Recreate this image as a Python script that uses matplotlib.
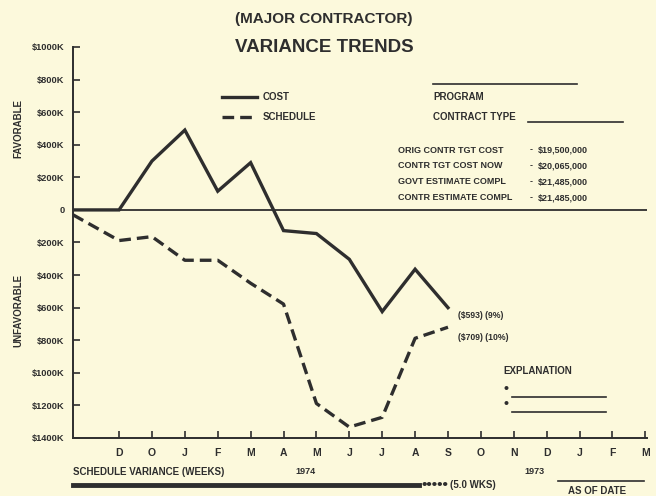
import matplotlib
matplotlib.use('Agg')
import matplotlib.pyplot as plt

# months along the bottom axis
months = ['D', 'O', 'J', 'F', 'M', 'A', 'M', 'J', 'J', 'A', 'S', 'O', 'N', 'D', 'J', 'F', 'M']

# variance values in $K (positive = favorable), first value is the origin point
cost = [0, 0, 300, 490, 115, 290, -127, -145, -303, -624, -364, -600]
schedule = [-30, -188, -164, -309, -309, -450, -578, -1188, -1333, -1273, -788, -720]

yticks = [1000, 800, 600, 400, 200, 0, -200, -400, -600, -800, -1000, -1200, -1400]
ytick_labels = ['$1000K', '$800K', '$600K', '$400K', '$200K', '0', '$200K', '$400K',
                '$600K', '$800K', '$1000K', '$1200K', '$1400K']

contract_rows = ['ORIG CONTR TGT COST', 'CONTR TGT COST NOW',
                 'GOVT ESTIMATE COMPL', 'CONTR ESTIMATE COMPL']
contract_vals = ['$19,500,000', '$20,065,000', '$21,485,000', '$21,485,000']

bg = '#fcf9dc'
ink = '#2e2e2e'
plt.rcParams['font.family'] = ['Liberation Sans', 'DejaVu Sans']
plt.rcParams['font.weight'] = 'bold'

W, H = 656, 496
fig = plt.figure(figsize=(W / 100, H / 100), dpi=100, facecolor=bg)


def fx(px):
    return px / W


def fy(py):
    return 1 - py / H


ax = fig.add_axes([fx(73), fy(438), fx(647) - fx(73), fy(47) - fy(438)], facecolor=bg)

x_left = -1.4
x_right = 16.05
xs = [x_left] + list(range(len(cost) - 1))

ax.plot(xs, cost, color=ink, lw=2.4, solid_joinstyle='miter')
ax.plot(xs, schedule, color=ink, lw=2.4, dashes=(3.5, 1.8))
ax.axhline(0, color=ink, lw=1.3)

ax.set_xlim(x_left, x_right)
ax.set_ylim(-1400, 1000)
ax.set_xticks(range(len(months)))
ax.set_xticklabels(months)
ax.set_yticks(yticks)
ax.set_yticklabels(ytick_labels)
ax.tick_params(direction='in', length=5, width=1.2, colors=ink, labelsize=6.7, pad=6)
ax.tick_params(axis='x', pad=7, labelsize=7.5)
for s in ['top', 'right']:
    ax.spines[s].set_visible(False)
for s in ['left', 'bottom']:
    ax.spines[s].set_color(ink)
    ax.spines[s].set_linewidth(1.4)

# titles
fig.text(fx(324), fy(19), '(MAJOR CONTRACTOR)', ha='center', va='center', fontsize=11, color=ink)
fig.text(fx(324), fy(47), 'VARIANCE TRENDS', ha='center', va='center', fontsize=13.5, color=ink)

fig.text(fx(18), fy(128), 'FAVORABLE', rotation=90, ha='center', va='center', fontsize=7, color=ink)
fig.text(fx(18), fy(310), 'UNFAVORABLE', rotation=90, ha='center', va='center', fontsize=7, color=ink)

# legend
fig.add_artist(plt.Line2D([fx(222), fx(257)], [fy(97), fy(97)], color=ink, lw=2.4))
fig.add_artist(plt.Line2D([fx(222), fx(257)], [fy(117), fy(117)], color=ink, lw=2.4, dashes=(3.5, 1.8)))
fig.text(fx(263), fy(97), 'COST', va='center', fontsize=7, color=ink)
fig.text(fx(263), fy(117), 'SCHEDULE', va='center', fontsize=7, color=ink)

# program block
fig.add_artist(plt.Line2D([fx(433), fx(577)], [fy(84), fy(84)], color=ink, lw=1.2))
fig.text(fx(433), fy(97), 'PROGRAM', va='center', fontsize=7, color=ink)
fig.text(fx(433), fy(117), 'CONTRACT TYPE', va='center', fontsize=7, color=ink)
fig.add_artist(plt.Line2D([fx(528), fx(623)], [fy(122), fy(122)], color=ink, lw=1.2))

for i, (lab, val) in enumerate(zip(contract_rows, contract_vals)):
    y = fy(150 + 16 * i)
    fig.text(fx(398), y, lab, va='center', fontsize=6.5, color=ink)
    fig.text(fx(530), y, '-', va='center', fontsize=6.5, color=ink)
    fig.text(fx(538), y, val, va='center', fontsize=6.5, color=ink)

# end labels
fig.text(fx(458), fy(316), '(\\$593) (9%)', va='center', fontsize=6.2, color=ink)
fig.text(fx(458), fy(337), '(\\$709) (10%)', va='center', fontsize=6.2, color=ink)

# explanation
fig.text(fx(503), fy(371), 'EXPLANATION', va='center', fontsize=7, color=ink)
for py in (389, 404):
    fig.text(fx(503), fy(py), '\u2022', va='center', fontsize=10, color=ink)
    fig.add_artist(plt.Line2D([fx(512), fx(606)], [fy(py + 8), fy(py + 8)], color=ink, lw=1.2))

# bottom notes
fig.text(fx(73), fy(472), 'SCHEDULE VARIANCE (WEEKS)', va='center', fontsize=7, color=ink)
fig.text(fx(305), fy(471), '1974', ha='center', va='center', fontsize=6.5, color=ink)
fig.text(fx(534), fy(471), '1973', ha='center', va='center', fontsize=6.5, color=ink)
fig.add_artist(plt.Line2D([fx(73), fx(419)], [fy(485), fy(485)], color=ink, lw=3.5))
fig.text(fx(422), fy(485), '\u2022\u2022\u2022\u2022\u2022', va='center', fontsize=11, color=ink)
fig.text(fx(450), fy(485), '(5.0 WKS)', va='center', fontsize=7, color=ink)
fig.add_artist(plt.Line2D([fx(558), fx(644)], [fy(481), fy(481)], color=ink, lw=1.2))
fig.text(fx(597), fy(491), 'AS OF DATE', ha='center', va='center', fontsize=7, color=ink)

fig.savefig('out.png', dpi=100, facecolor=bg)
